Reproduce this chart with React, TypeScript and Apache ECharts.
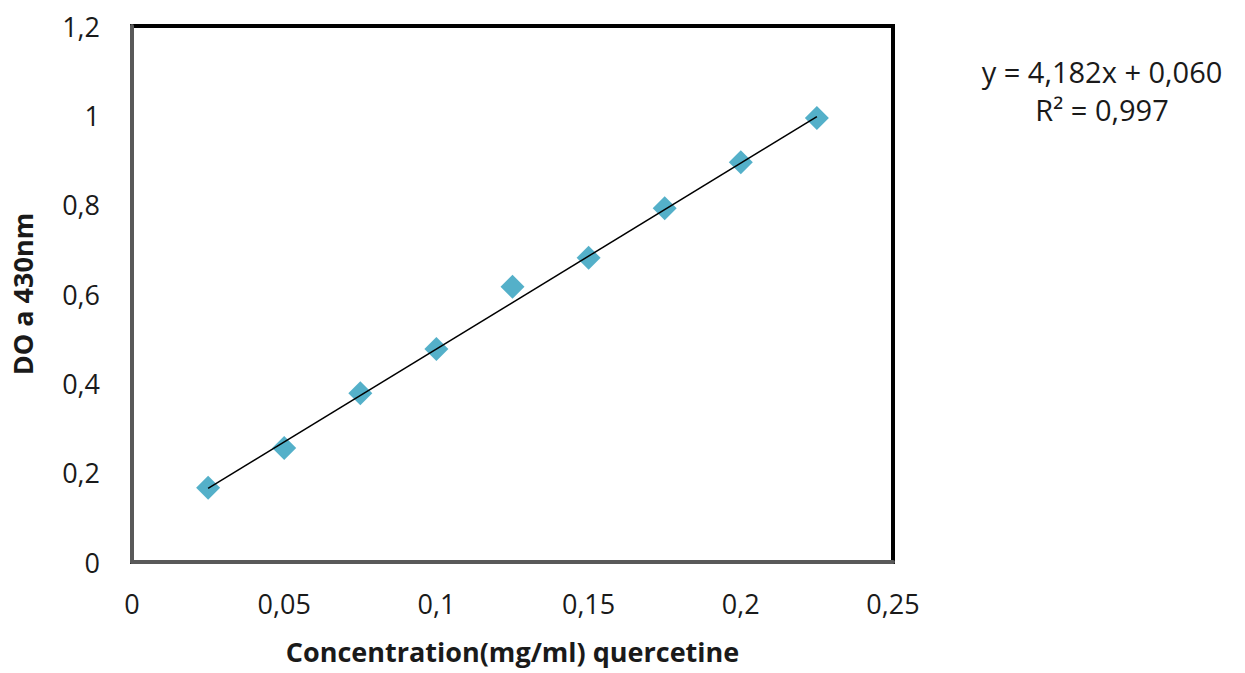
import React, { useEffect, useRef } from "react";
import * as echarts from "echarts";

const concentrations = [0.025, 0.05, 0.075, 0.1, 0.125, 0.15, 0.175, 0.2, 0.225];
const absorbances = [0.166, 0.255, 0.378, 0.477, 0.616, 0.681, 0.792, 0.895, 0.994];
const trendX = [0.025, 0.225];
const trendY = [0.1646, 0.997];
const equationLines = ["y = 4,182x + 0,060", "R² = 0,997"];
const xTitle = "Concentration(mg/ml) quercetine";
const yTitle = "DO a 430nm";

const fmt = (v: number) => String(Number(v.toFixed(3))).replace(".", ",");

export default function App() {
  const ref = useRef<HTMLDivElement>(null);
  useEffect(() => {
    if (!ref.current) return;
    const chart = echarts.init(ref.current, undefined, { renderer: "svg" });
    const font = "'Open Sans', 'Liberation Sans', sans-serif";
    chart.setOption({
      animation: false,
      backgroundColor: "#ffffff",
      grid: {
        left: 132,
        right: 352,
        top: 26,
        bottom: 111,
        containLabel: false,
        outerBoundsMode: "none",
        show: true,
        borderColor: "#000000",
        borderWidth: 4,
        backgroundColor: "transparent",
      },
      xAxis: {
        type: "value",
        min: 0,
        max: 0.25,
        interval: 0.05,
        name: xTitle,
        nameLocation: "middle",
        nameGap: 76,
        nameTextStyle: { fontFamily: font, fontSize: 27, fontWeight: "bold", color: "#1a1a1a" },
        axisLine: { show: true, onZero: false, lineStyle: { color: "#595959", width: 4 } },
        axisTick: { show: false },
        splitLine: { show: false },
        axisLabel: {
          formatter: fmt,
          margin: 28,
          fontFamily: font,
          fontSize: 27,
          color: "#1a1a1a",
        },
      },
      yAxis: {
        type: "value",
        min: 0,
        max: 1.2,
        interval: 0.2,
        name: yTitle,
        nameLocation: "middle",
        nameGap: 96,
        nameRotate: 90,
        nameTextStyle: { fontFamily: font, fontSize: 27, fontWeight: "bold", color: "#1a1a1a" },
        axisLine: { show: true, onZero: false, lineStyle: { color: "#595959", width: 4 } },
        axisTick: { show: false },
        splitLine: { show: false },
        axisLabel: {
          formatter: fmt,
          margin: 32,
          fontFamily: font,
          fontSize: 27,
          color: "#1a1a1a",
        },
      },
      series: [
        {
          type: "line",
          data: trendX.map((x, i) => [x, trendY[i]]),
          showSymbol: false,
          symbol: "none",
          lineStyle: { color: "#000000", width: 1.5 },
          z: 3,
        },
        {
          type: "scatter",
          data: concentrations.map((x, i) => [x, absorbances[i]]),
          symbol: "diamond",
          symbolSize: [24, 24],
          itemStyle: { color: "#4BACC6", opacity: 0.95 },
          z: 2,
        },
      ],
      graphic: [
        {
          type: "text",
          x: 1102,
          y: 71,
          style: {
            text: equationLines[0],
            fontFamily: font,
            fontSize: 29,
            fill: "#1a1a1a",
            align: "center",
            verticalAlign: "middle",
          },
        },
        {
          type: "text",
          x: 1102,
          y: 109,
          style: {
            text: equationLines[1],
            fontFamily: font,
            fontSize: 29,
            fill: "#1a1a1a",
            align: "center",
            verticalAlign: "middle",
          },
        },
      ],
    });
    return () => chart.dispose();
  }, []);
  return (
    <div
      ref={ref}
      style={{ position: "fixed", left: 0, top: 0, width: 1245, height: 673 }}
    />
  );
}
